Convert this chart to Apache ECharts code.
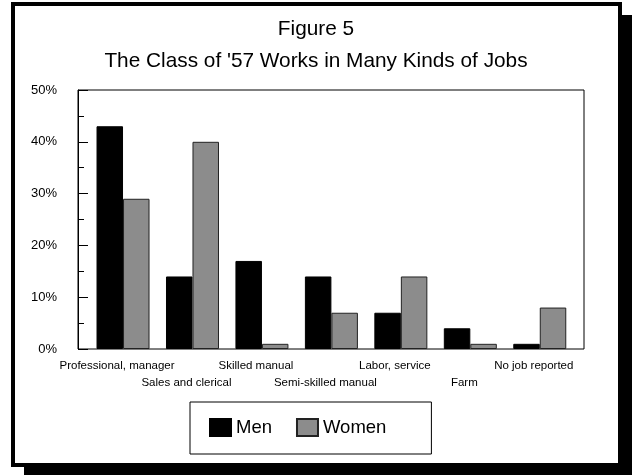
<!DOCTYPE html>
<html><head><meta charset="utf-8">
<script src="https://cdn.jsdelivr.net/npm/echarts@6/dist/echarts.min.js"></script>
<style>html,body{margin:0;padding:0;background:#fff}#c{width:632px;height:475px}</style>
</head><body><div id="c"></div>
<script>
const categories = ['Professional, manager','Sales and clerical','Skilled manual','Semi-skilled manual','Labor, service','Farm','No job reported'];
const men = [43, 14, 17, 14, 7, 4, 1];
const women = [29, 40, 1, 7, 14, 1, 8];
const seriesNames = ['Men', 'Women'];
const yMin = 0, yMax = 50, yStep = 10;
const titleText = 'Figure 5';
const subtitleText = "The Class of '57 Works in Many Kinds of Jobs";

const FONT = 'Liberation Sans, Arial, sans-serif';
const chart = echarts.init(document.getElementById('c'), null, {renderer: 'canvas'});
chart.setOption({
  animation: false,
  backgroundColor: '#fff',
  textStyle: {fontFamily: FONT, color: '#000'},
  graphic: [
    {type: 'rect', z: -20, silent: true, shape: {x: 24, y: 15, width: 620, height: 470}, style: {fill: '#000'}},
    {type: 'rect', z: -10, silent: true, shape: {x: 13, y: 4, width: 607, height: 461}, style: {fill: '#fff', stroke: '#000', lineWidth: 4}}
  ],
  title: [
    {text: titleText, left: 'center', top: 14, textStyle: {fontFamily: FONT, fontSize: 20.8, fontWeight: 'normal', color: '#000'}},
    {text: subtitleText, left: 'center', top: 46, textStyle: {fontFamily: FONT, fontSize: 20.8, fontWeight: 'normal', color: '#000'}}
  ],
  legend: {
    data: seriesNames, left: 190, top: 402, orient: 'horizontal',
    padding: [16, 45, 17, 19], borderColor: '#000', borderWidth: 1,
    itemWidth: 21, itemHeight: 17, itemGap: 24, icon: 'rect',
    textStyle: {fontFamily: FONT, fontSize: 18.5, color: '#000'}
  },
  grid: [
    {left: 78, top: 90, width: 506, height: 259, show: true, borderColor: '#000', borderWidth: 1, backgroundColor: 'transparent'},
    {left: 88.3, top: 90, width: 486.2, height: 259}
  ],
  xAxis: [
    {gridIndex: 0, type: 'category', data: categories, show: false},
    {gridIndex: 1, type: 'category', data: categories,
      axisLine: {show: false}, axisTick: {show: false},
      axisLabel: {interval: 0, margin: 8, fontSize: 11.5, lineHeight: 17, color: '#000', fontFamily: FONT,
        padding: [0, 12, 0, 0],
        formatter: (v, i) => (i % 2 ? '\n' + v : v)}}
  ],
  yAxis: [
    {gridIndex: 0, type: 'value', min: yMin, max: yMax, interval: yStep,
      axisLine: {show: true, lineStyle: {color: '#000', width: 1}},
      axisTick: {show: true, inside: true, length: 10, lineStyle: {color: '#000'}},
      minorTick: {show: true, splitNumber: 2, length: 6, lineStyle: {color: '#000'}},
      splitLine: {show: false},
      axisLabel: {formatter: '{value}%', margin: 21, fontSize: 13, color: '#000', fontFamily: FONT}},
    {gridIndex: 1, type: 'value', min: yMin, max: yMax, show: false, splitLine: {show: false}}
  ],
  series: [
    {name: seriesNames[0], type: 'bar', xAxisIndex: 1, yAxisIndex: 1, data: men, barWidth: 26.5, barGap: '0%',
      itemStyle: {color: '#000', borderColor: '#000', borderWidth: 1}},
    {name: seriesNames[1], type: 'bar', xAxisIndex: 1, yAxisIndex: 1, data: women, barWidth: 26.5, barGap: '0%',
      itemStyle: {color: '#8c8c8c', borderColor: '#222', borderWidth: 1}}
  ]
});
</script></body></html>
